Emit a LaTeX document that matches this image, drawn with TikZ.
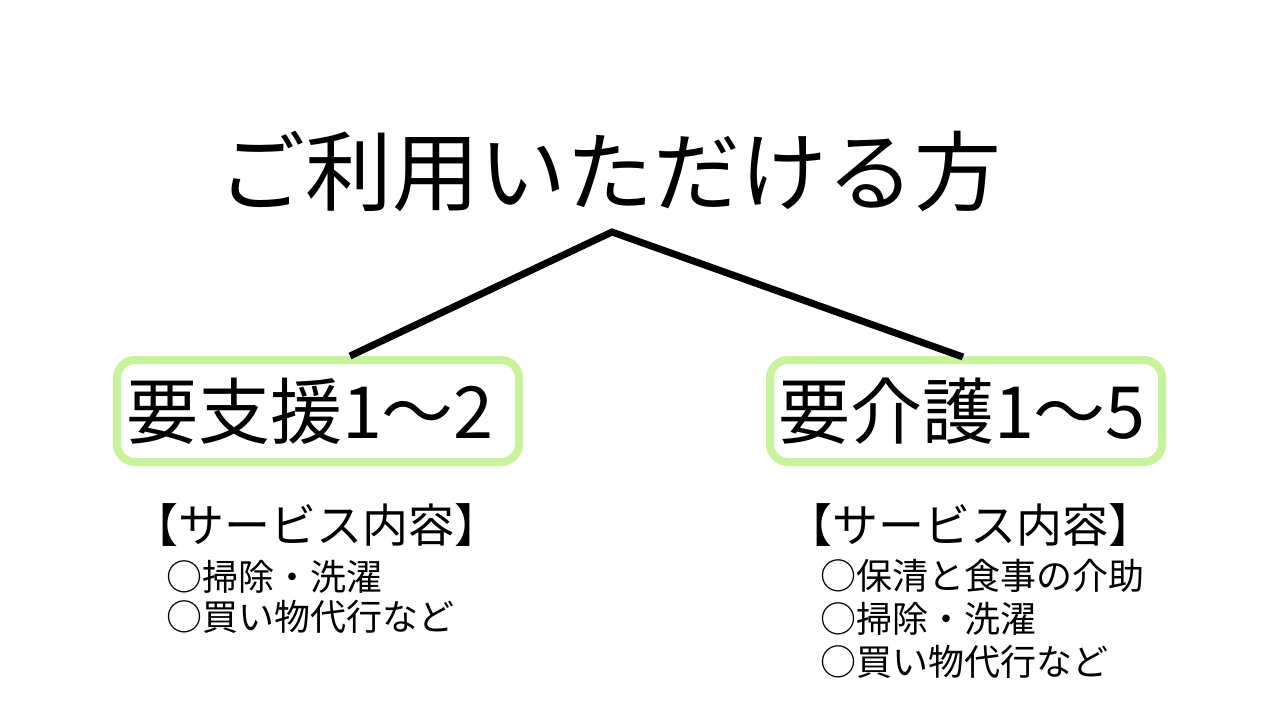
\documentclass[tikz,border=0pt]{standalone}
\usepackage{fontspec}
\newfontfamily\jp{Noto Sans CJK JP}
\definecolor{boxgreen}{RGB}{200,242,155}
\begin{document}
\begin{tikzpicture}[x=1pt,y=-1pt,
  every node/.style={inner sep=0pt,outer sep=0pt},
  titletext/.style={anchor=base,font=\jp\fontsize{87}{90}\selectfont},
  levelbox/.style={draw=boxgreen,line width=8pt,rounded corners=18pt},
  leveltext/.style={anchor=base west,font=\jp\fontsize{72}{76}\selectfont},
  headtext/.style={anchor=base west,font=\jp\fontsize{46}{50}\selectfont},
  itemtext/.style={anchor=base west,font=\jp\fontsize{36}{40}\selectfont},
  branch/.style={line width=7pt,line join=miter}]
\useasboundingbox[fill=white] (0,0) rectangle (1280,720);
\node[titletext] (title) at (610,204) {ご利用いただける方};
\draw[levelbox] (117,360) rectangle (519,462);
\draw[levelbox] (770,360) rectangle (1162,462);
\node[leveltext] (shien) at (126,438) {要支援1～2};
\node[leveltext] (kaigo) at (778,438) {要介護1～5};
\coordinate (apex) at (612,232);
\coordinate (lend) at (350,356);
\coordinate (rend) at (963,357);
\draw[branch] (lend) -- (apex) -- (rend);
\node[headtext] (lhead) at (132,542) {【サービス内容】};
\node[itemtext] (l1) at (166,590) {○掃除・洗濯};
\node[itemtext] (l2) at (166,630) {○買い物代行など};
\node[headtext] (rhead) at (786,542) {【サービス内容】};
\node[itemtext] (r1) at (820,589) {○保清と食事の介助};
\node[itemtext] (r2) at (820,632) {○掃除・洗濯};
\node[itemtext] (r3) at (820,675) {○買い物代行など};
\end{tikzpicture}
\end{document}
